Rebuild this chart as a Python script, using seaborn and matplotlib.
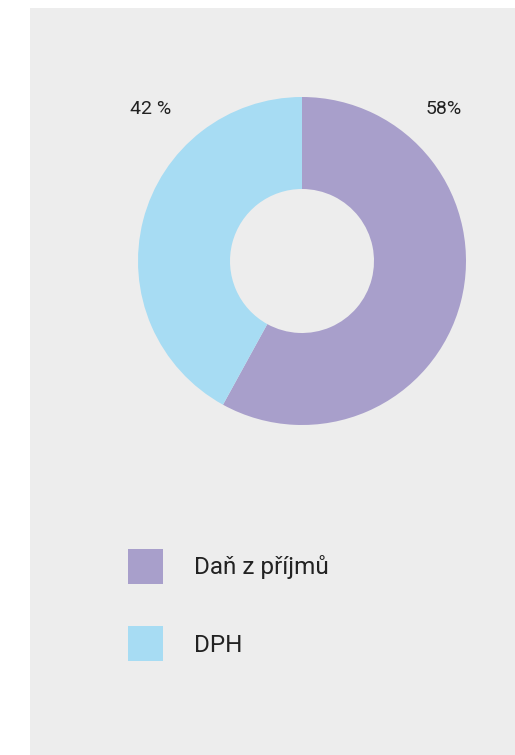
import matplotlib
matplotlib.use("Agg")
import matplotlib.pyplot as plt
from matplotlib.patches import Rectangle, Patch
import seaborn as sns

# data
categories = ["Daň z příjmů", "DPH"]
shares = [58, 42]
pct_labels = ["58%", "42 %"]
colors = ["#A89FCB", "#A7DCF3"]

sns.set_style("white")
plt.rcParams["font.family"] = ["Roboto", "DejaVu Sans"]

W, H = 515, 755
fig = plt.figure(figsize=(W / 100, H / 100), dpi=100)
fig.patch.set_facecolor("white")

# grey panel behind everything
fig.add_artist(Rectangle((30 / W, 0), 1 - 30 / W, 1 - 8 / H,
                         transform=fig.transFigure, facecolor="#EDEDED",
                         edgecolor="none", zorder=0))

# donut, centre (302, 261) px, outer radius 164 px
cx, cy, r = 302, 261, 164
ax = fig.add_axes([(cx - r) / W, (H - cy - r) / H, 2 * r / W, 2 * r / H])
ax.pie(shares, colors=colors, startangle=90, counterclock=False, radius=1,
       wedgeprops=dict(width=1 - 72 / 164, edgecolor="none"))
ax.set_xlim(-1, 1)
ax.set_ylim(-1, 1)
ax.set_aspect("auto")
ax.axis("off")

ax.text((444 - cx) / r, (cy - 109) / r, pct_labels[0], ha="center", va="center",
        fontsize=14, color="#222222")
ax.text((151 - cx) / r, (cy - 109) / r, pct_labels[1], ha="center", va="center",
        fontsize=14, color="#222222")

handles = [Patch(facecolor=c, edgecolor="none") for c in colors]
fs = 17.5
fpx = fs * 100 / 72
hh = (35 / fpx - 0.245) / 0.65
leg = fig.legend(handles, categories, loc="upper left",
                 bbox_to_anchor=(128 / W, 1 - 549 / H), frameon=False,
                 fontsize=fs, handlelength=35 / fpx,
                 handleheight=hh,
                 handletextpad=31 / fpx,
                 labelspacing=(87 - hh * fpx) / fpx, borderpad=0,
                 borderaxespad=0)
for t in leg.get_texts():
    t.set_color("#222222")

fig.savefig("out.png", dpi=100, facecolor="white")
